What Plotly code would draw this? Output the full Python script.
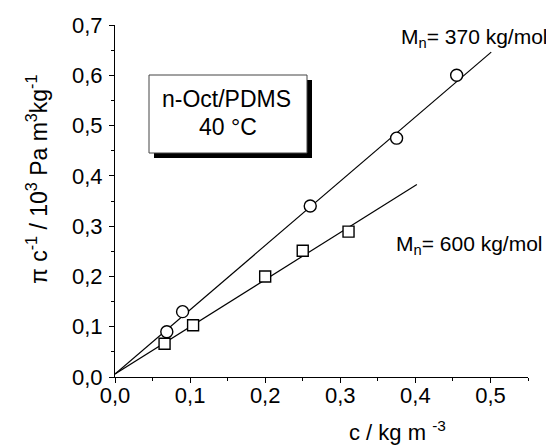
import plotly.graph_objects as go

# data
c_370 = [0.069, 0.090, 0.260, 0.375, 0.455]
pi_370 = [0.090, 0.130, 0.340, 0.475, 0.600]
c_600 = [0.066, 0.104, 0.200, 0.250, 0.311]
pi_600 = [0.066, 0.103, 0.200, 0.251, 0.289]
fit_370_x = [0.0, 0.501]
fit_370_y = [0.006, 0.646]
fit_600_x = [0.0, 0.402]
fit_600_y = [0.006, 0.383]
x_ticks = [0.0, 0.1, 0.2, 0.3, 0.4, 0.5]
y_ticks = [0.0, 0.1, 0.2, 0.3, 0.4, 0.5, 0.6, 0.7]

W, H = 546, 448
L, R, T, B = 115, 528, 25, 377

def px(x):
    return (x - L) / (R - L)

def py(y):
    return (B - y) / (B - T)

FONT = "Liberation Sans, Arial, sans-serif"

fig = go.Figure()
fig.add_trace(go.Scatter(x=fit_370_x, y=fit_370_y, mode="lines",
                         line=dict(color="black", width=1.2), showlegend=False))
fig.add_trace(go.Scatter(x=fit_600_x, y=fit_600_y, mode="lines",
                         line=dict(color="black", width=1.2), showlegend=False))
fig.add_trace(go.Scatter(x=c_370, y=pi_370, mode="markers",
                         marker=dict(symbol="circle", size=12, color="white",
                                     line=dict(color="black", width=1.4)),
                         showlegend=False))
fig.add_trace(go.Scatter(x=c_600, y=pi_600, mode="markers",
                         marker=dict(symbol="square", size=11, color="white",
                                     line=dict(color="black", width=1.4)),
                         showlegend=False))

axis_common = dict(showgrid=False, zeroline=False, showline=True, linecolor="black",
                   linewidth=1, ticks="outside", ticklen=5, tickwidth=1, tickcolor="black",
                   tickformat=".1f", tickfont=dict(family=FONT, size=22, color="black"),
                   minor=dict(ticks="outside", ticklen=3, tickwidth=1, tickcolor="black",
                              dtick=0.05, showgrid=False))

fig.update_xaxes(range=[0, 0.55], tickvals=x_ticks, ticklabelstandoff=-6, **axis_common)
fig.update_yaxes(range=[0, 0.7], tickvals=y_ticks, ticklabelstandoff=2, **axis_common)

shapes = [
    dict(type="rect", xref="paper", yref="paper",
         x0=px(154), x1=px(312), y0=py(158), y1=py(80),
         fillcolor="black", line=dict(width=0), layer="above"),
    dict(type="rect", xref="paper", yref="paper",
         x0=px(149), x1=px(307), y0=py(153), y1=py(75),
         fillcolor="white", line=dict(color="#444444", width=1), layer="above"),
]

def ann(text, x, y, size, xanchor="center", angle=0):
    return dict(text=text, x=px(x), y=py(y), xref="paper", yref="paper",
                xanchor=xanchor, yanchor="middle", textangle=angle,
                showarrow=False, font=dict(family=FONT, size=size, color="black"))

annotations = [
    ann("n-Oct/PDMS", 226, 99, 23),
    ann("40 °C", 228, 127, 23),
    ann("M<sub>n</sub>= 370 kg/mol", 399, 38, 21, xanchor="left"),
    ann("M<sub>n</sub>= 600 kg/mol", 394, 245, 21, xanchor="left"),
    ann("π c<sup>-1</sup> / 10<sup>3</sup> Pa m<sup>3</sup>kg<sup>-1</sup>", 37, 180, 23, angle=-90),
    ann("c / kg m <sup>-3</sup>", 347, 431, 22, xanchor="left"),
]

fig.update_layout(width=W, height=H, margin=dict(l=L, r=W - R, t=T, b=H - B),
                  paper_bgcolor="white", plot_bgcolor="white",
                  separators=", ", shapes=shapes, annotations=annotations,
                  font=dict(family=FONT, color="black"))

fig.write_html("out.html", config={"displayModeBar": False},
               post_script="document.body.style.margin='0';")
